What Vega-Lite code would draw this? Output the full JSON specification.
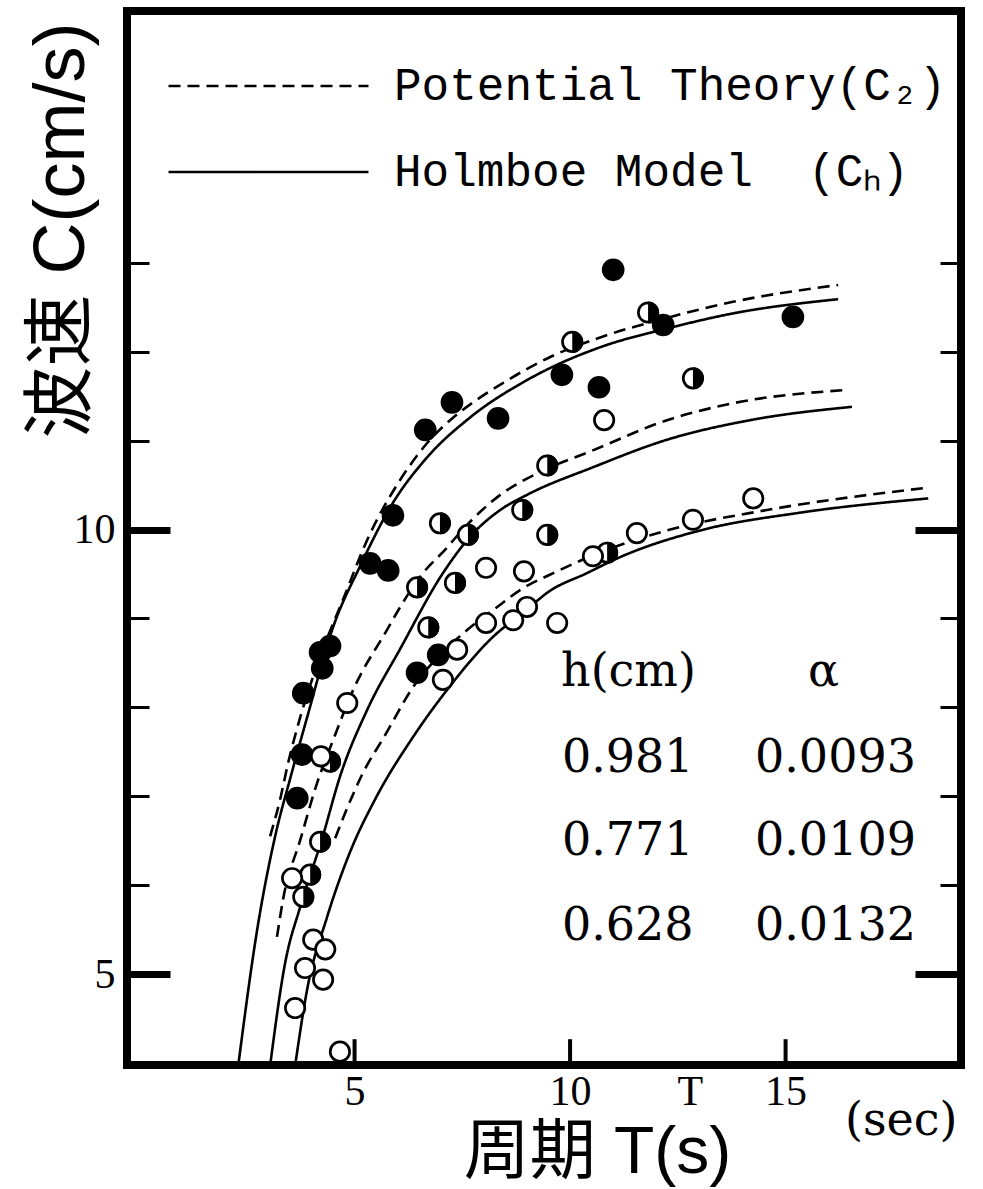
{
  "$schema": "https://vega.github.io/schema/vega-lite/v6.json",
  "width": 834,
  "height": 1054,
  "autosize": {"type": "none"},
  "padding": {"left": 127, "top": 11, "right": 22, "bottom": 124},
  "background": "white",
  "config": {
    "view": {"stroke": "black", "strokeWidth": 8},
    "font": "Liberation Serif",
    "axis": {"grid": false, "domain": false}
  },
  "datasets": {
    "curves": [
      {"series": "0.981", "model": "Potential Theory(C\u2082)", "x": 3.04, "y": 6.55},
      {"series": "0.981", "model": "Potential Theory(C\u2082)", "x": 3.27, "y": 6.96},
      {"series": "0.981", "model": "Potential Theory(C\u2082)", "x": 3.46, "y": 7.38},
      {"series": "0.981", "model": "Potential Theory(C\u2082)", "x": 3.74, "y": 7.89},
      {"series": "0.981", "model": "Potential Theory(C\u2082)", "x": 4.20, "y": 8.57},
      {"series": "0.981", "model": "Potential Theory(C\u2082)", "x": 4.73, "y": 9.21},
      {"series": "0.981", "model": "Potential Theory(C\u2082)", "x": 5.29, "y": 9.88},
      {"series": "0.981", "model": "Potential Theory(C\u2082)", "x": 6.06, "y": 10.56},
      {"series": "0.981", "model": "Potential Theory(C\u2082)", "x": 6.68, "y": 10.97},
      {"series": "0.981", "model": "Potential Theory(C\u2082)", "x": 7.29, "y": 11.26},
      {"series": "0.981", "model": "Potential Theory(C\u2082)", "x": 7.84, "y": 11.46},
      {"series": "0.981", "model": "Potential Theory(C\u2082)", "x": 8.45, "y": 11.65},
      {"series": "0.981", "model": "Potential Theory(C\u2082)", "x": 9.54, "y": 11.94},
      {"series": "0.981", "model": "Potential Theory(C\u2082)", "x": 10.70, "y": 12.16},
      {"series": "0.981", "model": "Potential Theory(C\u2082)", "x": 12.25, "y": 12.38},
      {"series": "0.981", "model": "Potential Theory(C\u2082)", "x": 13.78, "y": 12.56},
      {"series": "0.981", "model": "Potential Theory(C\u2082)", "x": 16.22, "y": 12.75},

      {"series": "0.981", "model": "Holmboe Model\u00a0\u00a0(C\u2095)", "x": 2.30, "y": 3.97},
      {"series": "0.981", "model": "Holmboe Model\u00a0\u00a0(C\u2095)", "x": 2.74, "y": 5.50},
      {"series": "0.981", "model": "Holmboe Model\u00a0\u00a0(C\u2095)", "x": 3.18, "y": 6.60},
      {"series": "0.981", "model": "Holmboe Model\u00a0\u00a0(C\u2095)", "x": 3.50, "y": 7.19},
      {"series": "0.981", "model": "Holmboe Model\u00a0\u00a0(C\u2095)", "x": 3.90, "y": 7.89},
      {"series": "0.981", "model": "Holmboe Model\u00a0\u00a0(C\u2095)", "x": 4.50, "y": 8.90},
      {"series": "0.981", "model": "Holmboe Model\u00a0\u00a0(C\u2095)", "x": 5.13, "y": 9.59},
      {"series": "0.981", "model": "Holmboe Model\u00a0\u00a0(C\u2095)", "x": 5.89, "y": 10.30},
      {"series": "0.981", "model": "Holmboe Model\u00a0\u00a0(C\u2095)", "x": 6.68, "y": 10.81},
      {"series": "0.981", "model": "Holmboe Model\u00a0\u00a0(C\u2095)", "x": 7.68, "y": 11.26},
      {"series": "0.981", "model": "Holmboe Model\u00a0\u00a0(C\u2095)", "x": 9.00, "y": 11.68},
      {"series": "0.981", "model": "Holmboe Model\u00a0\u00a0(C\u2095)", "x": 10.70, "y": 12.05},
      {"series": "0.981", "model": "Holmboe Model\u00a0\u00a0(C\u2095)", "x": 12.25, "y": 12.26},
      {"series": "0.981", "model": "Holmboe Model\u00a0\u00a0(C\u2095)", "x": 13.78, "y": 12.43},
      {"series": "0.981", "model": "Holmboe Model\u00a0\u00a0(C\u2095)", "x": 16.22, "y": 12.59},

      {"series": "0.771", "model": "Potential Theory(C\u2082)", "x": 3.20, "y": 5.42},
      {"series": "0.771", "model": "Potential Theory(C\u2082)", "x": 3.34, "y": 5.84},
      {"series": "0.771", "model": "Potential Theory(C\u2082)", "x": 3.74, "y": 6.51},
      {"series": "0.771", "model": "Potential Theory(C\u2082)", "x": 4.13, "y": 7.15},
      {"series": "0.771", "model": "Potential Theory(C\u2082)", "x": 4.50, "y": 7.63},
      {"series": "0.771", "model": "Potential Theory(C\u2082)", "x": 4.97, "y": 8.20},
      {"series": "0.771", "model": "Potential Theory(C\u2082)", "x": 5.75, "y": 8.87},
      {"series": "0.771", "model": "Potential Theory(C\u2082)", "x": 6.06, "y": 9.13},
      {"series": "0.771", "model": "Potential Theory(C\u2082)", "x": 6.52, "y": 9.47},
      {"series": "0.771", "model": "Potential Theory(C\u2082)", "x": 7.15, "y": 9.80},
      {"series": "0.771", "model": "Potential Theory(C\u2082)", "x": 7.49, "y": 9.99},
      {"series": "0.771", "model": "Potential Theory(C\u2082)", "x": 8.38, "y": 10.39},
      {"series": "0.771", "model": "Potential Theory(C\u2082)", "x": 9.23, "y": 10.63},
      {"series": "0.771", "model": "Potential Theory(C\u2082)", "x": 10.53, "y": 10.89},
      {"series": "0.771", "model": "Potential Theory(C\u2082)", "x": 12.25, "y": 11.23},
      {"series": "0.771", "model": "Potential Theory(C\u2082)", "x": 13.78, "y": 11.42},
      {"series": "0.771", "model": "Potential Theory(C\u2082)", "x": 16.43, "y": 11.57},

      {"series": "0.771", "model": "Holmboe Model\u00a0\u00a0(C\u2095)", "x": 3.04, "y": 3.97},
      {"series": "0.771", "model": "Holmboe Model\u00a0\u00a0(C\u2095)", "x": 3.39, "y": 5.13},
      {"series": "0.771", "model": "Holmboe Model\u00a0\u00a0(C\u2095)", "x": 3.74, "y": 5.76},
      {"series": "0.771", "model": "Holmboe Model\u00a0\u00a0(C\u2095)", "x": 4.25, "y": 6.53},
      {"series": "0.771", "model": "Holmboe Model\u00a0\u00a0(C\u2095)", "x": 4.66, "y": 7.22},
      {"series": "0.771", "model": "Holmboe Model\u00a0\u00a0(C\u2095)", "x": 5.29, "y": 7.97},
      {"series": "0.771", "model": "Holmboe Model\u00a0\u00a0(C\u2095)", "x": 6.06, "y": 8.66},
      {"series": "0.771", "model": "Holmboe Model\u00a0\u00a0(C\u2095)", "x": 7.05, "y": 9.51},
      {"series": "0.771", "model": "Holmboe Model\u00a0\u00a0(C\u2095)", "x": 7.68, "y": 9.92},
      {"series": "0.771", "model": "Holmboe Model\u00a0\u00a0(C\u2095)", "x": 8.38, "y": 10.22},
      {"series": "0.771", "model": "Holmboe Model\u00a0\u00a0(C\u2095)", "x": 9.00, "y": 10.39},
      {"series": "0.771", "model": "Holmboe Model\u00a0\u00a0(C\u2095)", "x": 10.53, "y": 10.70},
      {"series": "0.771", "model": "Holmboe Model\u00a0\u00a0(C\u2095)", "x": 12.25, "y": 11.01},
      {"series": "0.771", "model": "Holmboe Model\u00a0\u00a0(C\u2095)", "x": 14.18, "y": 11.23},
      {"series": "0.771", "model": "Holmboe Model\u00a0\u00a0(C\u2095)", "x": 16.54, "y": 11.38},

      {"series": "0.628", "model": "Potential Theory(C\u2082)", "x": 4.55, "y": 6.53},
      {"series": "0.628", "model": "Potential Theory(C\u2082)", "x": 4.83, "y": 6.87},
      {"series": "0.628", "model": "Potential Theory(C\u2082)", "x": 5.17, "y": 7.24},
      {"series": "0.628", "model": "Potential Theory(C\u2082)", "x": 5.71, "y": 7.69},
      {"series": "0.628", "model": "Potential Theory(C\u2082)", "x": 6.36, "y": 8.23},
      {"series": "0.628", "model": "Potential Theory(C\u2082)", "x": 6.98, "y": 8.59},
      {"series": "0.628", "model": "Potential Theory(C\u2082)", "x": 7.61, "y": 8.87},
      {"series": "0.628", "model": "Potential Theory(C\u2082)", "x": 8.31, "y": 9.13},
      {"series": "0.628", "model": "Potential Theory(C\u2082)", "x": 8.84, "y": 9.32},
      {"series": "0.628", "model": "Potential Theory(C\u2082)", "x": 9.61, "y": 9.51},
      {"series": "0.628", "model": "Potential Theory(C\u2082)", "x": 10.53, "y": 9.71},
      {"series": "0.628", "model": "Potential Theory(C\u2082)", "x": 12.25, "y": 9.99},
      {"series": "0.628", "model": "Potential Theory(C\u2082)", "x": 14.57, "y": 10.22},
      {"series": "0.628", "model": "Potential Theory(C\u2082)", "x": 18.28, "y": 10.47},

      {"series": "0.628", "model": "Holmboe Model\u00a0\u00a0(C\u2095)", "x": 3.62, "y": 3.97},
      {"series": "0.628", "model": "Holmboe Model\u00a0\u00a0(C\u2095)", "x": 3.90, "y": 4.83},
      {"series": "0.628", "model": "Holmboe Model\u00a0\u00a0(C\u2095)", "x": 4.36, "y": 5.64},
      {"series": "0.628", "model": "Holmboe Model\u00a0\u00a0(C\u2095)", "x": 4.90, "y": 6.38},
      {"series": "0.628", "model": "Holmboe Model\u00a0\u00a0(C\u2095)", "x": 5.48, "y": 6.97},
      {"series": "0.628", "model": "Holmboe Model\u00a0\u00a0(C\u2095)", "x": 6.36, "y": 7.67},
      {"series": "0.628", "model": "Holmboe Model\u00a0\u00a0(C\u2095)", "x": 7.15, "y": 8.20},
      {"series": "0.628", "model": "Holmboe Model\u00a0\u00a0(C\u2095)", "x": 8.14, "y": 8.76},
      {"series": "0.628", "model": "Holmboe Model\u00a0\u00a0(C\u2095)", "x": 9.07, "y": 9.13},
      {"series": "0.628", "model": "Holmboe Model\u00a0\u00a0(C\u2095)", "x": 9.47, "y": 9.29},
      {"series": "0.628", "model": "Holmboe Model\u00a0\u00a0(C\u2095)", "x": 10.39, "y": 9.51},
      {"series": "0.628", "model": "Holmboe Model\u00a0\u00a0(C\u2095)", "x": 11.16, "y": 9.69},
      {"series": "0.628", "model": "Holmboe Model\u00a0\u00a0(C\u2095)", "x": 13.02, "y": 9.99},
      {"series": "0.628", "model": "Holmboe Model\u00a0\u00a0(C\u2095)", "x": 15.34, "y": 10.19},
      {"series": "0.628", "model": "Holmboe Model\u00a0\u00a0(C\u2095)", "x": 18.31, "y": 10.35}
    ],
    "points": [
      {"type": "filled", "x": 11.00, "y": 12.92},
      {"type": "filled", "x": 12.16, "y": 12.30},
      {"type": "filled", "x": 15.17, "y": 12.39},
      {"type": "filled", "x": 9.81, "y": 11.74},
      {"type": "filled", "x": 10.67, "y": 11.60},
      {"type": "filled", "x": 7.26, "y": 11.43},
      {"type": "filled", "x": 6.64, "y": 11.12},
      {"type": "filled", "x": 8.33, "y": 11.25},
      {"type": "filled", "x": 5.89, "y": 10.16},
      {"type": "filled", "x": 5.36, "y": 9.62},
      {"type": "filled", "x": 5.78, "y": 9.54},
      {"type": "filled", "x": 4.20, "y": 8.62},
      {"type": "filled", "x": 4.43, "y": 8.69},
      {"type": "filled", "x": 4.25, "y": 8.44},
      {"type": "filled", "x": 3.81, "y": 8.16},
      {"type": "filled", "x": 3.78, "y": 7.47},
      {"type": "filled", "x": 3.67, "y": 6.98},
      {"type": "filled", "x": 6.94, "y": 8.59},
      {"type": "filled", "x": 6.45, "y": 8.39},

      {"type": "half", "x": 11.81, "y": 12.44},
      {"type": "half", "x": 10.05, "y": 12.11},
      {"type": "half", "x": 12.85, "y": 11.70},
      {"type": "half", "x": 9.47, "y": 10.72},
      {"type": "half", "x": 8.89, "y": 10.22},
      {"type": "half", "x": 6.98, "y": 10.07},
      {"type": "half", "x": 9.47, "y": 9.94},
      {"type": "half", "x": 7.63, "y": 9.94},
      {"type": "half", "x": 10.86, "y": 9.74},
      {"type": "half", "x": 6.45, "y": 9.35},
      {"type": "half", "x": 7.33, "y": 9.40},
      {"type": "half", "x": 6.71, "y": 8.90},
      {"type": "half", "x": 4.43, "y": 7.39},
      {"type": "half", "x": 4.20, "y": 6.49},
      {"type": "half", "x": 3.97, "y": 6.12},
      {"type": "half", "x": 3.81, "y": 5.87},

      {"type": "open", "x": 10.79, "y": 11.23},
      {"type": "open", "x": 8.05, "y": 9.57},
      {"type": "open", "x": 8.93, "y": 9.53},
      {"type": "open", "x": 10.53, "y": 9.70},
      {"type": "open", "x": 11.55, "y": 9.96},
      {"type": "open", "x": 12.85, "y": 10.11},
      {"type": "open", "x": 14.25, "y": 10.35},
      {"type": "open", "x": 9.00, "y": 9.13},
      {"type": "open", "x": 8.68, "y": 8.98},
      {"type": "open", "x": 9.70, "y": 8.95},
      {"type": "open", "x": 8.05, "y": 8.95},
      {"type": "open", "x": 7.38, "y": 8.65},
      {"type": "open", "x": 7.05, "y": 8.31},
      {"type": "open", "x": 4.83, "y": 8.05},
      {"type": "open", "x": 4.22, "y": 7.45},
      {"type": "open", "x": 3.55, "y": 6.08},
      {"type": "open", "x": 4.04, "y": 5.39},
      {"type": "open", "x": 4.32, "y": 5.28},
      {"type": "open", "x": 3.85, "y": 5.07},
      {"type": "open", "x": 4.27, "y": 4.94},
      {"type": "open", "x": 3.62, "y": 4.62},
      {"type": "open", "x": 4.66, "y": 4.13}
    ],
    "bottomTicks": [
      {"tick": "5", "x": 5, "y": 3.98},
      {"tick": "5", "x": 5, "y": 4.27},
      {"tick": "10", "x": 10, "y": 3.98},
      {"tick": "10", "x": 10, "y": 4.27},
      {"tick": "15", "x": 15, "y": 3.98},
      {"tick": "15", "x": 15, "y": 4.27}
    ],
    "notes": [
      {"label": "h(cm)", "x": 9.79, "y": 8.24},
      {"label": "\u03b1", "x": 15.52, "y": 8.24},
      {"label": "0.981", "x": 9.81, "y": 7.275},
      {"label": "0.0093", "x": 14.29, "y": 7.275},
      {"label": "0.771", "x": 9.81, "y": 6.343},
      {"label": "0.0109", "x": 14.29, "y": 6.343},
      {"label": "0.628", "x": 9.81, "y": 5.388},
      {"label": "0.0132", "x": 14.29, "y": 5.388},
      {"label": "(sec)", "x": 16.38, "y": 3.19}
    ]
  },
  "encoding": {
    "x": {
      "field": "x", "type": "quantitative",
      "scale": {"domain": [-0.28, 19.07], "nice": false, "zero": false},
      "axis": {
        "orient": "bottom",
        "values": [5, 10, 12.78, 15],
        "labelExpr": "datum.value > 12 && datum.value < 13 ? 'T' : datum.label",
        "labelFont": "Liberation Serif",
        "labelFontSize": 42,
        "labelColor": "black",
        "labelPadding": 6,
        "labelFlush": false,
        "labelOverlap": false,
        "labelBound": false,
        "ticks": false,
        "domain": false,
        "grid": false,
        "title": "周期 T(s)",
        "titleFont": "Liberation Sans, Noto Sans CJK SC",
        "titleFontSize": 66,
        "titleFontWeight": "normal",
        "titleColor": "black",
        "titleX": 470,
        "titleY": 107,
        "titleAlign": "center",
        "titleBaseline": "alphabetic"
      }
    },
    "y": {"field": "y", "type": "quantitative", "scale": {"domain": [3.98, 15.83], "nice": false, "zero": false}, "axis": null}
  },
  "layer": [
    {
      "data": {"name": "curves"},
      "mark": {"type": "line", "interpolate": "monotone", "strokeWidth": 2.6, "color": "black", "clip": true},
      "encoding": {
        "y": {
          "field": "y", "type": "quantitative",
          "scale": {"domain": [3.98, 15.83], "nice": false, "zero": false},
          "axis": {
            "orient": "left",
            "values": [5, 6, 7, 8, 9, 10, 11, 12, 13],
            "labelExpr": "datum.value === 5 || datum.value === 10 ? datum.label : ''",
            "labelFont": "Liberation Serif",
            "labelFontSize": 42,
            "labelColor": "black",
            "labelPadding": 55,
            "labelAlign": "right",
            "labelBaseline": "middle",
            "labelOverlap": false,
            "labelBound": false,
            "labelFlush": false,
            "tickSize": {"condition": {"test": "datum.value === 5 || datum.value === 10", "value": -43}, "value": -22},
            "tickWidth": {"condition": {"test": "datum.value === 5 || datum.value === 10", "value": 7}, "value": 3},
            "tickColor": "black",
            "domain": false,
            "grid": false,
            "title": "波速 C(cm/s)",
            "titleFont": "Liberation Sans, Noto Sans CJK SC",
            "titleFontSize": 72,
            "titleFontWeight": "normal",
            "titleColor": "black",
            "titleAngle": 270,
            "titleX": -44,
            "titleY": 219,
            "titleAlign": "center",
            "titleBaseline": "alphabetic"
          }
        },
        "detail": {"field": "series", "type": "nominal"},
        "strokeDash": {
          "field": "model", "type": "nominal",
          "scale": {"domain": ["Potential Theory(C\u2082)", "Holmboe Model\u00a0\u00a0(C\u2095)"], "range": [[12, 7], [1, 0]]},
          "legend": {
            "orient": "none",
            "legendX": 40,
            "legendY": 52,
            "title": null,
            "padding": 0,
            "symbolType": "stroke",
            "symbolSize": 40000,
            "symbolStrokeWidth": 2.5,
            "symbolStrokeColor": "black",
            "clipHeight": 46,
            "rowPadding": 40,
            "labelFont": "Liberation Mono",
            "labelFontSize": 46,
            "labelColor": "black",
            "labelOffset": 24,
            "labelLimit": 1000
          }
        }
      }
    },
    {
      "data": {"name": "bottomTicks"},
      "mark": {"type": "line", "strokeWidth": 4, "color": "black", "strokeCap": "butt", "interpolate": "linear"},
      "encoding": {
        "detail": {"field": "tick", "type": "nominal"},
        "order": {"field": "y", "type": "quantitative"}
      }
    },
    {
      "data": {"name": "points"},
      "transform": [{"filter": "datum.type === 'filled'"}],
      "mark": {"type": "point", "shape": "circle", "filled": true, "fill": "black", "stroke": "black", "strokeWidth": 2.7, "size": 400, "opacity": 1}
    },
    {
      "data": {"name": "points"},
      "transform": [{"filter": "datum.type === 'half'"}],
      "mark": {"type": "point", "shape": "circle", "filled": true, "fill": "white", "stroke": "black", "strokeWidth": 2.7, "size": 376, "opacity": 1}
    },
    {
      "data": {"name": "points"},
      "transform": [{"filter": "datum.type === 'half'"}],
      "mark": {"type": "point", "shape": "M0,-1A1,1,0,0,1,0,1Z", "filled": true, "fill": "black", "strokeWidth": 0, "size": 484, "opacity": 1}
    },
    {
      "data": {"name": "points"},
      "transform": [{"filter": "datum.type === 'open'"}],
      "mark": {"type": "point", "shape": "circle", "filled": true, "fill": "white", "stroke": "black", "strokeWidth": 2.7, "size": 376, "opacity": 1},
      "encoding": {
        "y": {
          "field": "y", "type": "quantitative",
          "scale": {"domain": [3.98, 15.83], "nice": false, "zero": false},
          "axis": {
            "orient": "right",
            "values": [5, 6, 7, 8, 9, 10, 11, 12, 13],
            "labels": false,
            "domain": false,
            "grid": false,
            "tickColor": "black",
            "tickSize": {"condition": {"test": "datum.value === 5 || datum.value === 10", "value": -46}, "value": -21},
            "tickWidth": {"condition": {"test": "datum.value === 5 || datum.value === 10", "value": 7}, "value": 3},
            "title": null
          }
        }
      }
    },
    {
      "data": {"name": "notes"},
      "mark": {"type": "text", "font": "DejaVu Serif", "fontSize": 46, "align": "left", "baseline": "alphabetic", "color": "black"},
      "encoding": {
        "text": {"field": "label"}
      }
    }
  ],
  "resolve": {"axis": {"y": "independent"}}
}
